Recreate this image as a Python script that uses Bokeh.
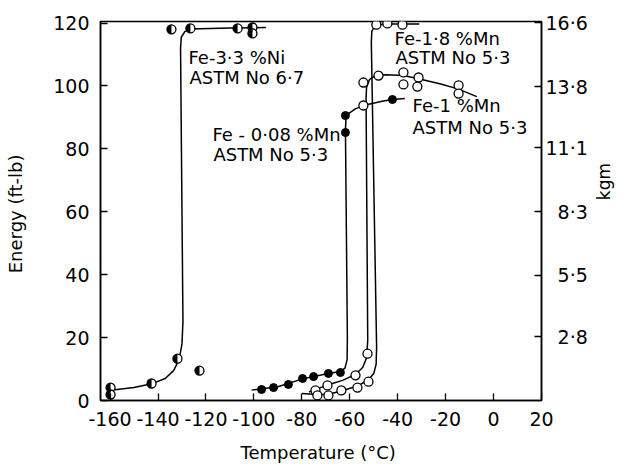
from math import pi

from bokeh.plotting import figure
from bokeh.models import Range1d, LinearAxis, Label, FixedTicker
from bokeh.embed import file_html
from bokeh.resources import INLINE

# ---- Charpy impact energy (ft-lb) against test temperature (deg C) ----

# Fe-3.3%Ni, ASTM No 6.7 (half-filled symbols)
ni_temp = [-159.8, -159.8, -142.7, -131.9, -122.7, -134.4, -126.5, -106.8, -100.6, -100.6]
ni_energy = [4.1, 1.9, 5.4, 13.3, 9.5, 118.0, 118.3, 118.3, 118.6, 116.7]

# Fe-0.08%Mn, ASTM No 5.3 (filled symbols)
mn008_temp = [-96.8, -91.8, -85.6, -79.7, -75.1, -68.9, -63.9, -61.8, -61.8, -42.2]
mn008_energy = [3.5, 4.1, 5.1, 7.0, 7.6, 8.6, 8.9, 85.2, 90.6, 95.7]

# Fe-1%Mn, ASTM No 5.3 (open symbols)
mn1_temp = [-74.3, -69.3, -57.6, -52.6, -54.3, -54.3, -48.0, -37.6, -37.6, -31.3, -31.8, -14.6, -14.6]
mn1_energy = [3.2, 4.8, 8.0, 14.9, 93.8, 101.1, 103.3, 104.3, 100.5, 102.7, 99.8, 100.2, 97.6]

# Fe-1.8%Mn, ASTM No 5.3 (open symbols)
mn18_temp = [-73.5, -68.9, -63.5, -56.8, -52.2, -48.9, -44.3, -38.0]
mn18_energy = [1.6, 1.6, 3.2, 4.1, 6.0, 119.5, 119.9, 119.5]

# Hand-drawn transition curves (nodes along each curve)
ni_curve_temp = [-158, -150, -142.7, -137, -133.5, -131.2, -130.0, -129.6, -130.6, -130.3, -128.8, -126.5, -110, -95]
ni_curve_energy = [3.4, 4.1, 5.3, 7.0, 9.5, 13.0, 18.0, 25.0, 112.0, 115.5, 117.3, 118.1, 118.4, 118.6]

mn008_curve_temp = [-101, -90, -80, -70, -64, -62, -61.1, -61.0, -61.8, -61.6, -60.5, -57.5, -53, -46, -42, -37]
mn008_curve_energy = [3.3, 4.4, 6.8, 8.4, 9.2, 10.3, 13.0, 20.0, 86.0, 89.5, 91.2, 92.8, 94.0, 95.2, 95.7, 96.0]

mn1_curve_temp = [-77, -74.3, -69.3, -63, -57.6, -54.6, -53.0, -52.5, -53.2, -53.0, -51.8, -49.5, -45, -37.6, -31.3, -22, -14.6, -7]
mn1_curve_energy = [2.7, 3.5, 4.9, 6.4, 8.3, 10.5, 13.5, 19.0, 96.0, 99.5, 102.0, 103.2, 103.6, 103.3, 102.3, 100.6, 99.0, 96.6]

mn18_curve_temp = [-80, -73.5, -68.9, -63.5, -56.8, -52.2, -50.0, -49.0, -48.8, -51.0, -50.8, -49.8, -48.0, -44, -38, -31]
mn18_curve_energy = [2.2, 1.9, 2.0, 3.0, 4.6, 6.6, 8.6, 11.5, 17.0, 114.0, 117.3, 118.9, 119.5, 119.7, 119.7, 119.7]

# Axis ticks
temp_ticks = [-160, -140, -120, -100, -80, -60, -40, -20, 0, 20]
temp_tick_labels = ["-160", "-140", "-120", "-100", "-80", "-60", "-40", "-20", "0", "20"]
energy_ticks = [0, 20, 40, 60, 80, 100, 120]
kgm_ticks = [2.8, 5.5, 8.3, 11.1, 13.8, 16.6]
kgm_tick_labels = ["\u20072\u00b78", "\u20075\u00b75", "\u20078\u00b73", "11\u00b71", "13\u00b78", "16\u00b76"]

FTLB_PER_KGM = 7.233
FONT = "DejaVu Sans"

p = figure(
    width=626, height=466,
    x_range=Range1d(-164, 20), y_range=Range1d(0, 120.5),
    output_backend="svg", toolbar_location=None,
    min_border_left=100, min_border_right=85, min_border_top=21, min_border_bottom=66,
    background_fill_color="white", border_fill_color="white",
)
p.extra_y_ranges = {"kgm": Range1d(0, 120.5 / FTLB_PER_KGM)}
p.xgrid.visible = False
p.ygrid.visible = False
p.outline_line_color = "black"
p.outline_line_width = 1.5


def style_axis(ax, standoff):
    ax.axis_line_width = 1.5
    ax.axis_line_color = "black"
    ax.major_tick_line_width = 1.3
    ax.major_tick_in = 7
    ax.major_tick_out = 0
    ax.minor_tick_in = 0
    ax.minor_tick_out = 0
    ax.major_label_standoff = standoff
    ax.major_label_text_font = FONT
    ax.major_label_text_font_size = "19px"
    ax.major_label_text_color = "black"
    ax.axis_label_text_font = FONT
    ax.axis_label_text_font_size = "18px"
    ax.axis_label_text_font_style = "normal"
    ax.axis_label_text_color = "black"


xa = p.xaxis[0]
style_axis(xa, 11)
xa.ticker = FixedTicker(ticks=temp_ticks)
xa.major_label_overrides = dict(zip(temp_ticks, temp_tick_labels))
xa.axis_label = "Temperature  (\u00b0C)"
xa.axis_label_standoff = 13

ya = p.yaxis[0]
style_axis(ya, 11)
ya.ticker = FixedTicker(ticks=energy_ticks)
ya.axis_label = "Energy  (ft-lb)"
ya.axis_label_standoff = 24

ra = LinearAxis(y_range_name="kgm")
style_axis(ra, 4)
ra.ticker = FixedTicker(ticks=kgm_ticks)
ra.major_label_overrides = dict(zip(kgm_ticks, kgm_tick_labels))
ra.axis_label = "\u00a0" * 2 + "kgm"
ra.axis_label_text_font_size = "17px"
ra.axis_label_standoff = 13
ra.axis_label_orientation = pi / 2
p.add_layout(ra, "right")

# Transition curves
for tx, ty in [(ni_curve_temp, ni_curve_energy), (mn008_curve_temp, mn008_curve_energy),
               (mn1_curve_temp, mn1_curve_energy), (mn18_curve_temp, mn18_curve_energy)]:
    p.line(tx, ty, line_color="black", line_width=1.5)

# Half-filled symbols
p.scatter(ni_temp, ni_energy, marker="circle", size=9, fill_color="white",
          line_color="black", line_width=1.3)
p.wedge(ni_temp, ni_energy, radius=4.5, radius_units="screen",
        start_angle=pi / 2, end_angle=3 * pi / 2, fill_color="black", line_color=None)

# Filled symbols
p.scatter(mn008_temp, mn008_energy, marker="circle", size=8, fill_color="black",
          line_color="black")

# Open symbols
for tx, ty in [(mn1_temp, mn1_energy), (mn18_temp, mn18_energy)]:
    p.scatter(tx, ty, marker="circle", size=9, fill_color="white",
              line_color="black", line_width=1.3)

# Curve annotations
notes = [
    ("Fe-3\u00b73 %Ni", -127.3, 109.1),
    ("ASTM No 6\u00b77", -126.9, 102.7),
    ("Fe - 0\u00b708 %Mn", -117.3, 84.6),
    ("ASTM No 5\u00b73", -116.9, 78.2),
    ("Fe-1\u00b78 %Mn", -41.3, 115.1),
    ("ASTM No 5\u00b73", -40.9, 109.1),
    ("Fe-1 %Mn", -33.8, 93.8),
    ("ASTM No 5\u00b73", -33.8, 86.8),
]
for txt, tx, ty in notes:
    p.add_layout(Label(x=tx, y=ty, text=txt, text_font=FONT, text_font_size="18px",
                       text_color="black", text_align="left", text_baseline="middle"))

open("out.html", "w").write(file_html(p, INLINE))
